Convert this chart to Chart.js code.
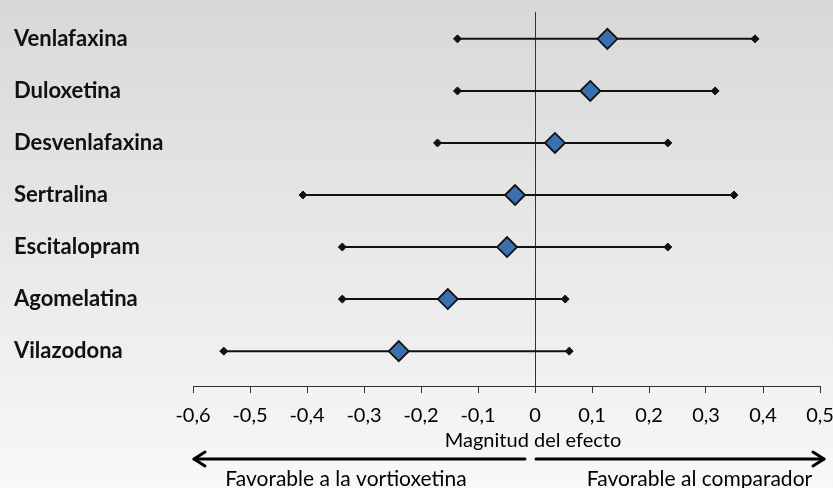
<!DOCTYPE html>
<html>
<head>
<meta charset="utf-8">
<script src="https://cdn.jsdelivr.net/npm/chart.js@4/dist/chart.umd.min.js"></script>
<style>
  html, body { margin: 0; padding: 0; background: #e8e8e8; }
  #wrap { position: relative; width: 833px; height: 488px; }
</style>
</head>
<body>
<div id="wrap"><canvas id="c" width="833" height="488"></canvas></div>
<script>
// ---- data ----
const categories = ['Venlafaxina', 'Duloxetina', 'Desvenlafaxina', 'Sertralina', 'Escitalopram', 'Agomelatina', 'Vilazodona'];
const estimates = [0.127, 0.097, 0.035, -0.035, -0.049, -0.153, -0.239];
const lowerCI  = [-0.136, -0.136, -0.171, -0.407, -0.338, -0.338, -0.546];
const upperCI  = [0.386, 0.316, 0.233, 0.349, 0.233, 0.053, 0.060];
const xTickValues = [-0.6, -0.5, -0.4, -0.3, -0.2, -0.1, 0, 0.1, 0.2, 0.3, 0.4, 0.5];
const xTickLabels = ['-0,6', '-0,5', '-0,4', '-0,3', '-0,2', '-0,1', '0', '0,1', '0,2', '0,3', '0,4', '0,5'];
const axisTitle = 'Magnitud del efecto';
const leftNote = 'Favorable a la vortioxetina';
const rightNote = 'Favorable al comparador';

const FONT = 'Lato, "Open Sans", sans-serif';

const ciDatasets = categories.map((c, i) => ({
  type: 'scatter',
  label: c,
  data: [{ x: lowerCI[i], y: i }, { x: upperCI[i], y: i }],
  showLine: true,
  borderColor: '#111',
  borderWidth: 2,
  pointStyle: 'rectRot',
  pointRadius: 4,
  pointBackgroundColor: '#111',
  pointBorderColor: '#111',
  pointBorderWidth: 1,
  order: 2
}));

const estDataset = {
  type: 'scatter',
  label: 'Efecto',
  data: estimates.map((v, i) => ({ x: v, y: i })),
  pointStyle: 'rectRot',
  pointRadius: 10,
  pointBackgroundColor: '#3a70ad',
  pointBorderColor: '#111',
  pointBorderWidth: 1.8,
  showLine: false,
  order: 1
};

const bgPlugin = {
  id: 'bg',
  beforeDraw(chart) {
    const { ctx, width, height } = chart;
    const g = ctx.createLinearGradient(0, 0, 0, height);
    g.addColorStop(0, '#d8d8d8');
    g.addColorStop(1, '#f8f8f8');
    ctx.save();
    ctx.fillStyle = g;
    ctx.fillRect(0, 0, width, height);
    ctx.restore();
  }
};

const notesPlugin = {
  id: 'notes',
  afterDraw(chart) {
    const { ctx } = chart;
    const xs = chart.scales.x;
    const x0 = xs.getPixelForValue(0);
    const xL = xs.getPixelForValue(xTickValues[0]);
    const xR = xs.getPixelForValue(xTickValues[xTickValues.length - 1]);
    const yA = 459;
    ctx.save();
    // axis title
    ctx.fillStyle = '#000';
    ctx.font = '20px ' + FONT;
    ctx.textAlign = 'center';
    ctx.textBaseline = 'alphabetic';
    ctx.fillText(axisTitle, x0 - 2, 447);
    // arrows
    ctx.strokeStyle = '#000';
    ctx.lineWidth = 3;
    ctx.lineCap = 'round';
    ctx.lineJoin = 'round';
    ctx.beginPath();
    ctx.moveTo(x0 - 10, yA);
    ctx.lineTo(xL + 1, yA);
    ctx.stroke();
    ctx.beginPath();
    ctx.moveTo(xL + 12, yA - 7);
    ctx.lineTo(xL + 1, yA);
    ctx.lineTo(xL + 12, yA + 7);
    ctx.stroke();
    ctx.beginPath();
    ctx.moveTo(x0 + 1, yA);
    ctx.lineTo(xR + 4, yA);
    ctx.stroke();
    ctx.beginPath();
    ctx.moveTo(xR - 7, yA - 7);
    ctx.lineTo(xR + 4, yA);
    ctx.lineTo(xR - 7, yA + 7);
    ctx.stroke();
    // notes
    ctx.font = '21px ' + FONT;
    ctx.fillText(leftNote, (xL + x0) / 2 - 18, 486);
    ctx.fillText(rightNote, (x0 + xR) / 2 + 22, 486);
    ctx.restore();
  }
};

new Chart(document.getElementById('c'), {
  type: 'scatter',
  data: { datasets: [estDataset, ...ciDatasets] },
  options: {
    responsive: false,
    animation: false,
    events: [],
    layout: { padding: { left: 14, right: 13, top: 11, bottom: 0 } },
    plugins: { legend: { display: false }, tooltip: { enabled: false } },
    scales: {
      x: {
        type: 'linear',
        min: -0.6,
        max: 0.5,
        afterBuildTicks(scale) { scale.ticks = xTickValues.map(v => ({ value: v })); },
        afterFit(scale) { scale.height = 102; scale.paddingLeft = 0; scale.paddingRight = 0; },
        ticks: {
          callback: (v, i) => xTickLabels[i],
          color: '#000',
          font: { family: FONT, size: 20 },
          padding: 11,
          maxRotation: 0,
          autoSkip: false
        },
        grid: {
          drawOnChartArea: true,
          color: (ctx) => (ctx.tick && ctx.tick.value === 0 ? '#333' : 'rgba(0,0,0,0)'),
          tickColor: '#333',
          tickLength: 7,
          lineWidth: 1
        },
        border: { display: true, color: '#333', width: 1 },
        title: { display: false }
      },
      y: {
        type: 'linear',
        reverse: true,
        min: -0.52,
        max: 6.67,
        afterBuildTicks(scale) { scale.ticks = categories.map((c, i) => ({ value: i })); },
        afterFit(scale) { scale.width = 179; scale.paddingTop = 0; scale.paddingBottom = 0; },
        ticks: {
          callback: (v) => categories[v],
          crossAlign: 'far',
          color: '#111',
          font: { family: FONT, size: 22, weight: 'bold' },
          padding: 0,
          autoSkip: false
        },
        grid: { display: false },
        border: { display: false }
      }
    }
  },
  plugins: [bgPlugin, notesPlugin]
});
</script>
</body>
</html>
